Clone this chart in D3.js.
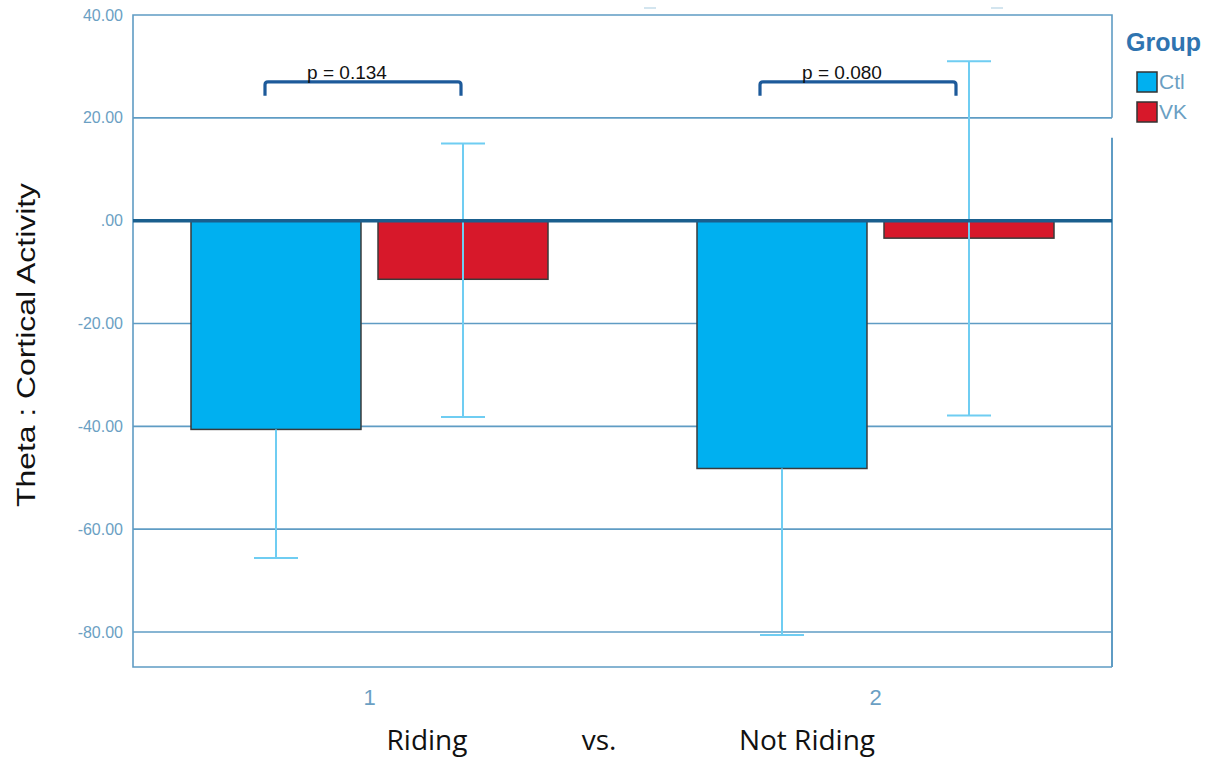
<!DOCTYPE html>
<html>
<head>
<meta charset="utf-8">
<script src="https://cdn.jsdelivr.net/npm/d3@7"></script>
<style>
  body { margin: 0; background: #fff; }
  svg { display: block; }
</style>
</head>
<body>
<div id="chart"></div>
<script>
// data
const conditions = ["1", "2"];
const groups = ["Ctl", "VK"];
const means = { Ctl: [-40.6, -48.2], VK: [-11.4, -3.4] };
const errLow = { Ctl: [-65.6, -80.6], VK: [-38.2, -37.9] };
const errHigh = { Ctl: [-15.6, -15.8], VK: [15.0, 31.0] };
const pValues = ["p = 0.134", "p = 0.080"];
const yTicks = [40, 20, 0, -20, -40, -60, -80];
const bottomLabels = ["Riding", "vs.", "Not Riding"];

const colors = { Ctl: "#00b0f0", VK: "#d7182a" };
const gridColor = "#5f9cc4";
const tickTextColor = "#6b9fc3";

const W = 1215, H = 760;
const plot = { left: 133, right: 1112, top: 15, bottom: 667 };

const svg = d3.select("#chart")
    .append("svg")
    .attr("width", W)
    .attr("height", H);

// scales
const y = d3.scaleLinear()
    .domain([-80, 40])
    .range([632, 15]);

const x = d3.scaleBand()
    .domain(conditions)
    .range([116.5, 1128.5])
    .padding(0);

const xInner = d3.scaleBand()
    .domain(groups)
    .range([-178.5, 178.5])
    .paddingInner(0.091);

const center = c => x(c) + x.bandwidth() / 2;

// gridlines (40 is the frame top)
svg.append("g")
    .selectAll("line")
    .data(yTicks.filter(d => d !== 0 && d !== 40))
    .join("line")
    .attr("x1", plot.left)
    .attr("x2", plot.right)
    .attr("y1", d => y(d))
    .attr("y2", d => y(d))
    .style("stroke", gridColor)
    .style("stroke-width", 1.6);

// frame
const frame = svg.append("g")
    .style("stroke", gridColor)
    .style("stroke-width", 1.6)
    .style("fill", "none");
frame.append("path")
    .attr("d", `M${plot.right},${y(20)} L${plot.right},${y(40)} L${plot.left},${y(40)} L${plot.left},${plot.bottom} L${plot.right},${plot.bottom}`);
frame.append("line")
    .attr("x1", plot.right).attr("x2", plot.right)
    .attr("y1", y(20) + 20).attr("y2", plot.bottom)
    .style("stroke-width", 2);

// little marks above the frame
svg.append("g")
    .selectAll("line")
    .data([650, 997])
    .join("line")
    .attr("x1", d => d - 6).attr("x2", d => d + 6)
    .attr("y1", 8).attr("y2", 8)
    .style("stroke", "#c5dcea")
    .style("stroke-width", 1.5);

// y tick labels, SPSS style ".00"
const fmt = d => d === 0 ? ".00" : d3.format(".2f")(d).replace("\u2212", "-");
svg.append("g")
    .selectAll("text")
    .data(yTicks)
    .join("text")
    .attr("x", 123)
    .attr("y", d => y(d))
    .attr("dy", "0.35em")
    .attr("text-anchor", "end")
    .text(fmt)
    .style("fill", tickTextColor)
    .style("font-family", "Liberation Sans, Arial, sans-serif")
    .style("font-size", "16px");

// bars
const barData = [];
conditions.forEach((c, i) => {
    groups.forEach(g => {
        barData.push({ cond: c, group: g, mean: means[g][i], lo: errLow[g][i], hi: errHigh[g][i] });
    });
});

svg.append("g")
    .selectAll("rect")
    .data(barData)
    .join("rect")
    .attr("x", d => center(d.cond) + xInner(d.group))
    .attr("width", xInner.bandwidth())
    .attr("y", d => y(Math.max(0, d.mean)))
    .attr("height", d => Math.abs(y(d.mean) - y(0)))
    .style("fill", d => colors[d.group])
    .style("stroke", "#3a3a3a")
    .style("stroke-width", 1.5);

// error bars
const errColor = "#6fcdf2";
const eb = svg.append("g")
    .selectAll("g")
    .data(barData)
    .join("g")
    .style("stroke", errColor)
    .style("stroke-width", 2);
const ebX = d => center(d.cond) + xInner(d.group) + xInner.bandwidth() / 2;
eb.append("line")
    .attr("x1", ebX).attr("x2", ebX)
    .attr("y1", d => d.group === "Ctl" ? y(d.mean) : y(d.hi))
    .attr("y2", d => y(d.lo));
eb.filter(d => d.group !== "Ctl")
    .append("line")
    .attr("x1", d => ebX(d) - 22).attr("x2", d => ebX(d) + 22)
    .attr("y1", d => y(d.hi)).attr("y2", d => y(d.hi));
eb.append("line")
    .attr("x1", d => ebX(d) - 22).attr("x2", d => ebX(d) + 22)
    .attr("y1", d => y(d.lo)).attr("y2", d => y(d.lo));

// zero line
svg.append("line")
    .attr("x1", plot.left)
    .attr("x2", plot.right)
    .attr("y1", y(0))
    .attr("y2", y(0))
    .style("stroke", "#1a5f8e")
    .style("stroke-width", 3.5);

// significance brackets
const bracketShift = [-11, -22];
const bx1 = (c, i) => center(c) + xInner("Ctl") + xInner.bandwidth() / 2 + bracketShift[i];
const bx2 = (c, i) => bx1(c, i) + 196;
const br = svg.append("g")
    .selectAll("g")
    .data(conditions)
    .join("g");
br.append("path")
    .attr("d", (c, i) => {
        const x1 = bx1(c, i), x2 = bx2(c, i);
        const yb = y(27), yt = y(24.3);
        return `M${x1},${yt} L${x1},${yb + 3} Q${x1},${yb} ${x1 + 3},${yb} L${x2 - 3},${yb} Q${x2},${yb} ${x2},${yb + 3} L${x2},${yt}`;
    })
    .style("fill", "none")
    .style("stroke", "#1d5a9a")
    .style("stroke-width", 3.2);
br.append("text")
    .attr("x", (c, i) => bx1(c, i) + 82)
    .attr("y", y(27) - 3)
    .attr("text-anchor", "middle")
    .text((c, i) => pValues[i])
    .style("fill", "#111")
    .style("font-family", "Liberation Sans, Arial, sans-serif")
    .style("font-size", "19px");

// x tick labels
svg.append("g")
    .selectAll("text")
    .data(conditions)
    .join("text")
    .attr("x", c => center(c))
    .attr("y", 705)
    .attr("text-anchor", "middle")
    .text(c => c)
    .style("fill", tickTextColor)
    .style("font-family", "Liberation Sans, Arial, sans-serif")
    .style("font-size", "22px");

// bottom labels
const bottomX = [427, 599, 807];
svg.append("g")
    .selectAll("text")
    .data(bottomLabels)
    .join("text")
    .attr("x", (d, i) => bottomX[i])
    .attr("y", 750)
    .attr("text-anchor", "middle")
    .text(d => d)
    .style("fill", "#111")
    .style("font-family", "Open Sans, Noto Sans, sans-serif")
    .style("font-size", "28px");

// y title
svg.append("text")
    .attr("transform", "translate(35,345) rotate(-90)")
    .attr("text-anchor", "middle")
    .attr("textLength", 324)
    .attr("lengthAdjust", "spacingAndGlyphs")
    .text("Theta : Cortical Activity")
    .style("fill", "#111")
    .style("font-family", "Liberation Sans, Arial, sans-serif")
    .style("font-size", "25px");

// legend
const legend = svg.append("g");
legend.append("text")
    .attr("x", 1126)
    .attr("y", 51)
    .text("Group")
    .style("fill", "#2f74b0")
    .style("font-family", "Liberation Sans, Arial, sans-serif")
    .style("font-weight", "bold")
    .style("font-size", "25px");
const li = legend.selectAll("g.item")
    .data(groups)
    .join("g")
    .attr("class", "item")
    .attr("transform", (d, i) => `translate(1137,${72 + i * 30})`);
li.append("rect")
    .attr("width", 20)
    .attr("height", 20)
    .style("fill", d => colors[d])
    .style("stroke", "#333")
    .style("stroke-width", 1.5);
li.append("text")
    .attr("x", 22)
    .attr("y", 10)
    .attr("dy", "0.35em")
    .text(d => d)
    .style("fill", tickTextColor)
    .style("font-family", "Liberation Sans, Arial, sans-serif")
    .style("font-size", "21px");
</script>
</body>
</html>
